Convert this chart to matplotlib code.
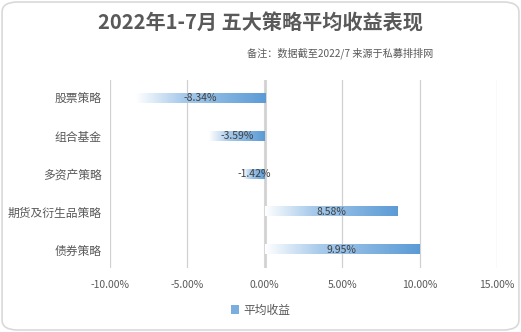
import numpy as np
import matplotlib
matplotlib.use('Agg')
import matplotlib.pyplot as plt
from matplotlib.colors import LinearSegmentedColormap
from matplotlib.patches import FancyBboxPatch, Patch
from matplotlib.ticker import FuncFormatter

plt.rcParams['font.family'] = ['Noto Sans CJK SC', 'DejaVu Sans']

# data
strategies = ['股票策略', '组合基金', '多资产策略', '期货及衍生品策略', '债券策略']
returns = [-8.34, -3.59, -1.42, 8.58, 9.95]
xticks = [-10, -5, 0, 5, 10, 15]

title = '2022年1-7月 五大策略平均收益表现'
note = '备注：数据截至2022/7 来源于私募排排网'
series_name = '平均收益'

txt = '#595959'
blue = '#5b9bd5'
grad = LinearSegmentedColormap.from_list(
    'bar_grad', [(0, '#ffffff'), (0.35, '#a9cbeb'), (1, blue)])

fig = plt.figure(figsize=(5.21, 3.32), dpi=100)
fig.patches.append(FancyBboxPatch((0.004, 0.006), 0.992, 0.988,
                                  boxstyle='round,pad=0,rounding_size=0.03',
                                  transform=fig.transFigure, fc='white',
                                  ec='#d9d9d9', lw=1.2, zorder=-1))

ax = fig.add_axes([0.211, 0.193, 0.743, 0.566])
ypos = np.arange(len(strategies))
bars = ax.barh(ypos, returns, height=0.24, color='none', zorder=3)

# gradient fill, light on the left to dark on the right
g = np.linspace(0, 1, 256).reshape(1, -1)
for b, v in zip(bars, returns):
    x0, y0, w, h = b.get_x(), b.get_y(), b.get_width(), b.get_height()
    left, right = min(x0, x0 + w), max(x0, x0 + w)
    ax.imshow(g, cmap=grad, extent=[left, right, y0, y0 + h],
              aspect='auto', zorder=3, interpolation='bilinear')
    ax.text((left + right) / 2, b.get_y() + h / 2, '%.2f%%' % v,
            ha='center', va='center', fontsize=7.5, color='#404040', zorder=4)

ax.set_xlim(-10, 15)
ax.set_ylim(4.48, -0.48)
ax.set_xticks(xticks)
ax.xaxis.set_major_formatter(FuncFormatter(lambda x, p: '%.2f%%' % x))
ax.set_yticks(ypos)
ax.set_yticklabels(strategies)
ax.tick_params(axis='x', length=0, labelsize=7.5, labelcolor=txt, pad=9)
ax.tick_params(axis='y', length=0, labelsize=8.5, labelcolor=txt, pad=6)
for s in ax.spines.values():
    s.set_visible(False)
ax.grid(axis='x', color='#d0d0d0', lw=0.9, zorder=0)
ax.axvline(0, color='#d9d9d9', lw=2.2, zorder=1)

fig.text(0.5, 0.93, title, ha='center', va='center', fontsize=14.5,
         fontweight='bold', color=txt)
fig.text(0.832, 0.84, note, ha='right', va='center', fontsize=7.3,
         color='#595959')

fig.legend(handles=[Patch(facecolor='#7aaede', edgecolor='none')],
           labels=[series_name], loc='center', bbox_to_anchor=(0.5, 0.066),
           frameon=False, fontsize=8.5, handlelength=0.7, handleheight=0.7,
           handletextpad=0.3, labelcolor=txt)

fig.savefig('out.png', dpi=100)
